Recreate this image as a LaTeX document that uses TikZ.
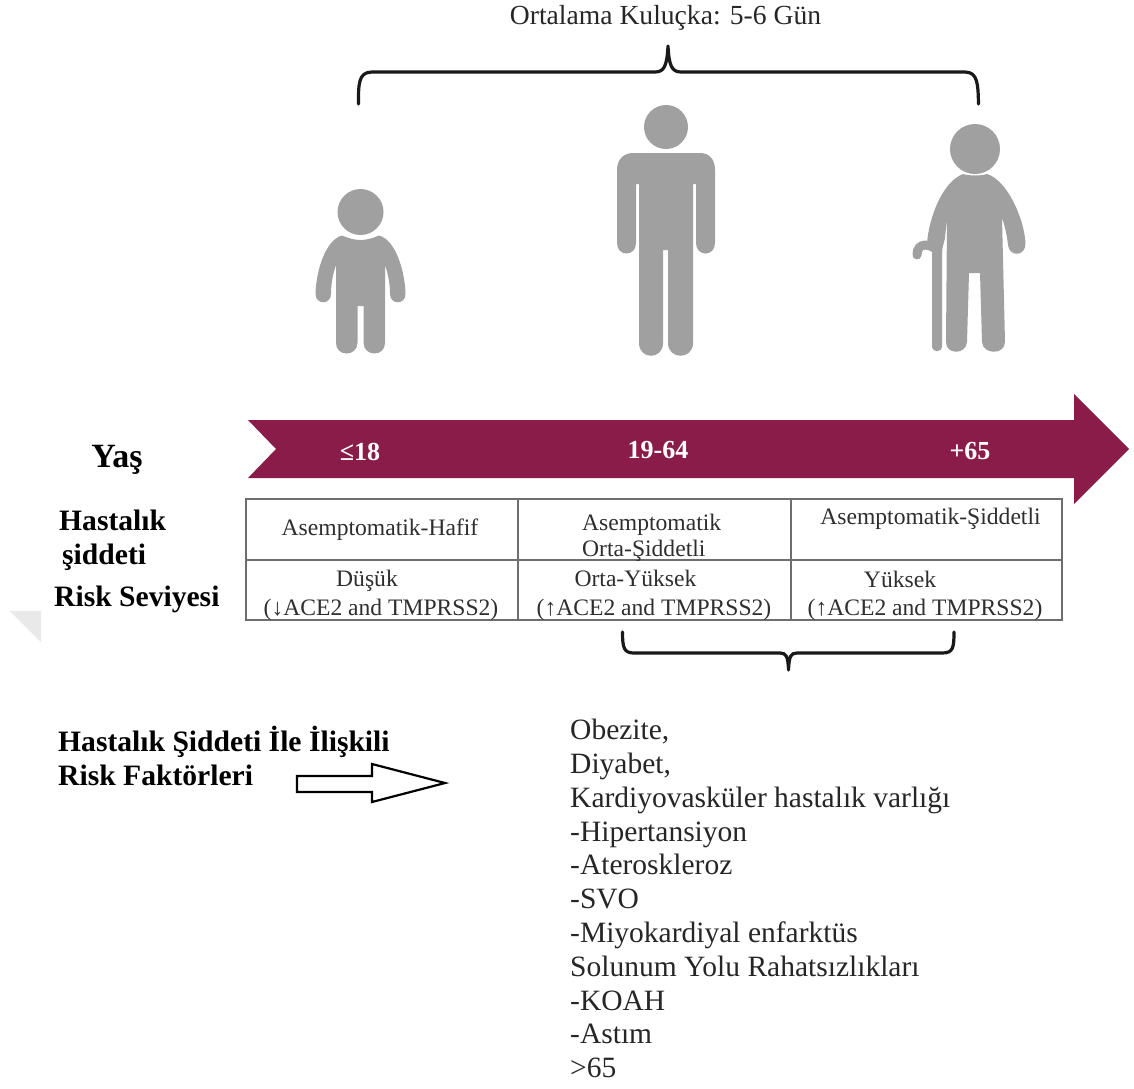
\documentclass[tikz,border=0pt]{standalone}
\usepackage{fontspec}
\setmainfont{Liberation Serif}
\definecolor{wine}{HTML}{8A1C4A}
\definecolor{figgray}{HTML}{A0A0A0}
\definecolor{gridgray}{HTML}{6E6E6E}
\definecolor{celltext}{HTML}{2E2E2E}
\definecolor{marklight}{HTML}{E9E9E9}
\tikzset{
  figure/.style={fill=figgray,draw=none},
  brace/.style={draw=black!90,line width=3.2pt,line cap=round,line join=round},
  cell/.style={anchor=base,font=\fontsize{23.6}{26}\selectfont,text=celltext,inner sep=0pt},
  rowlabel/.style={anchor=base west,font=\fontsize{29.6}{32}\bfseries\selectfont,inner sep=0pt},
  agelabel/.style={anchor=base,font=\fontsize{26}{28}\bfseries\selectfont,text=white,inner sep=0pt},
}
\begin{document}
\begin{tikzpicture}[x=1pt,y=-1pt]
\useasboundingbox (0,0) rectangle (1134,1088);
% watermark fragment
\fill[marklight] (10,611) -- (41,611) -- (41,642) -- cycle;
% title and upper brace
\node[anchor=base,font=\fontsize{27.6}{30}\selectfont,text=black!85,inner sep=0pt] (title) at (665.5,24) {Ortalama Kuluçka: 5-6 Gün};
\draw[brace] (358.5,104) .. controls (358.5,85) and (358,72) .. (372,72) -- (655,72)
  .. controls (664,72) and (667,66) .. (668,46)
  .. controls (669,66) and (672,72) .. (681,72) -- (965,72)
  .. controls (978,72) and (978,85) .. (978.5,104);
% child
\fill[figure] (360.5,212) circle (23);
\fill[figure] (342,235.5) .. controls (348,238) and (354,240) .. (360.5,240)
  .. controls (367,240) and (373,238) .. (379,235.5)
  .. controls (396,240) and (405,272) .. (405.5,294)
  .. controls (405.5,305) and (390,305) .. (390,294)
  .. controls (390,283) and (388,274) .. (385,265)
  -- (385,343) .. controls (385,357) and (364,357) .. (363.5,343)
  -- (363.5,306) -- (357.5,306) -- (357.5,343)
  .. controls (357,357) and (336,357) .. (336,343) -- (336,265)
  .. controls (333,274) and (331,283) .. (331,294)
  .. controls (331,305) and (315.5,305) .. (315.5,294)
  .. controls (316,272) and (325,240) .. (342,235.5) -- cycle;
% adult
\fill[figure] (666,127) circle (22);
\fill[figure] (633,153) -- (700,153) .. controls (710,153) and (715,160) .. (715,170)
  -- (715,243) .. controls (715,257) and (696,257) .. (696,243)
  -- (696,184) -- (693,184) -- (693,343)
  .. controls (693,360) and (668,360) .. (668,343)
  -- (668,250) -- (663,250) -- (663,343)
  .. controls (663,360) and (639,360) .. (639,343)
  -- (639,184) -- (636,184) -- (636,243)
  .. controls (636,257) and (617,257) .. (617,243) -- (617,170)
  .. controls (617,160) and (623,153) .. (633,153) -- cycle;
% elderly
\fill[figure] (975,149) circle (25);
\fill[figure] (963,174) .. controls (970,176) and (981,176) .. (987,174)
  .. controls (1007,180) and (1024,218) .. (1025.5,243)
  .. controls (1026,257) and (1009,257) .. (1008,245)
  .. controls (1007,236) and (1005,226) .. (1002,218)
  -- (1005,342) .. controls (1005,355) and (983,355) .. (982,342)
  -- (980,273) -- (969,273) -- (967,342)
  .. controls (966,355) and (946,355) .. (946,342)
  -- (947,218) -- (945,238) -- (942,250)
  -- (927,243) .. controls (929,218) and (942,182) .. (963,174) -- cycle;
\fill[figure] (932,250) -- (942,250) -- (942,346)
  .. controls (942,353) and (932,353) .. (932,346) -- cycle;
\draw[figgray,line width=9pt,line cap=round] (938,251) .. controls (930,243) and (917,242) .. (917,255);
% age arrow
\fill[wine] (248,420) -- (1074,420) -- (1074,394) -- (1129,449) -- (1074,504) -- (1074,478) -- (248,478) -- (276,449) -- cycle;
\node[agelabel] (young) at (360,460) {≤18};
\node[agelabel] (mid) at (658,458) {19-64};
\node[agelabel] (old) at (970,459) {+65};
% row labels
\node[rowlabel,font=\fontsize{34}{36}\bfseries\selectfont,anchor=base] (yas) at (117,467) {Yaş};
\node[rowlabel] (has) at (59,530) {Hastalık};
\node[rowlabel] (sid) at (62,564) {şiddeti};
\node[rowlabel] (risk) at (54,606) {Risk Seviyesi};
% table
\draw[gridgray,line width=1.8pt] (246,499) rectangle (1062,620)
  (246,560) -- (1062,560) (518,499) -- (518,620) (791,499) -- (791,620);
\node[cell] (a1) at (380,535) {Asemptomatik-Hafif};
\node[cell,anchor=base west] (a2) at (582,530) {Asemptomatik};
\node[cell,anchor=base west] (a2b) at (582,556) {Orta-Şiddetli};
\node[cell] (a3) at (930.5,524) {Asemptomatik-Şiddetli};
\node[cell] (b1) at (367,586) {Düşük};
\node[cell] (b1b) at (381,615) {(↓ACE2 and TMPRSS2)};
\node[cell] (b2) at (635.5,586) {Orta-Yüksek};
\node[cell] (b2b) at (654,615) {(↑ACE2 and TMPRSS2)};
\node[cell] (b3) at (900,587) {Yüksek};
\node[cell] (b3b) at (925,615) {(↑ACE2 and TMPRSS2)};
% lower brace
\draw[brace] (622.5,632) .. controls (622.5,648) and (624,653) .. (634,653) -- (780,653)
  .. controls (786,653) and (788,656) .. (788.5,670)
  .. controls (789,656) and (791,653) .. (797,653) -- (942,653)
  .. controls (953,653) and (954,648) .. (954,632);
% risk factor label and arrow
\node[rowlabel] (rf1) at (58,751) {Hastalık Şiddeti İle İlişkili};
\node[rowlabel] (rf2) at (58,785) {Risk Faktörleri};
\draw[black,line width=2.2pt,line join=miter,fill=white] (297,776) -- (372,776) -- (372,764) -- (445,783) -- (372,802) -- (372,792) -- (297,792) -- cycle;
% list
\node[anchor=north west,inner sep=0pt,align=left,font=\fontsize{29.5}{33.8}\selectfont,text=black!85] (list) at (570,719) {Obezite,\\Diyabet,\\Kardiyovasküler hastalık varlığı\\-Hipertansiyon\\-Ateroskleroz\\-SVO\\-Miyokardiyal enfarktüs\\Solunum Yolu Rahatsızlıkları\\-KOAH\\-Astım\\>65};
\end{tikzpicture}
\end{document}
